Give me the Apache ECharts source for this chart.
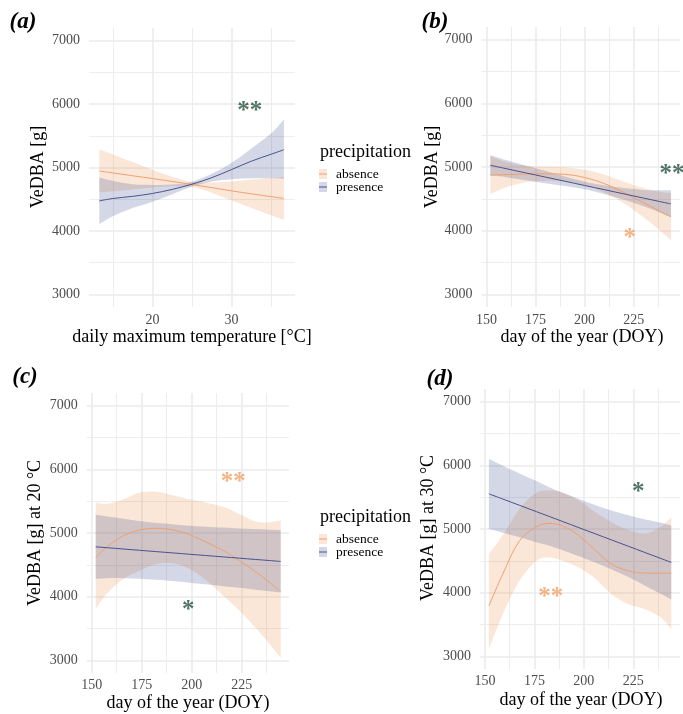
<!DOCTYPE html>
<html lang="en">
<head>
<meta charset="UTF-8">
<title>VeDBA</title>
<script src="https://cdn.jsdelivr.net/npm/echarts@6/dist/echarts.min.js"></script>
<style>
html, body { margin: 0; padding: 0; background: #fff; }
#chart { width: 683px; height: 714px; }
</style>
</head>
<body>
<div id="chart"></div>
<script>
// (a) VeDBA against daily maximum temperature
var tempA    = [13.3, 15, 17.5, 20, 22.5, 25, 27.5, 30, 32.5, 35, 36.6];
var absFitA  = [4946, 4915, 4870, 4826, 4780, 4732, 4682, 4631, 4585, 4540, 4511];
var absUpA   = [5286, 5205, 5085, 4966, 4855, 4772, 4762, 4781, 4810, 4835, 4851];
var absLoA   = [4606, 4625, 4655, 4686, 4705, 4692, 4602, 4481, 4360, 4245, 4171];
var preFitA  = [4473, 4511, 4545, 4590, 4655, 4737, 4840, 4968, 5100, 5210, 5280];
var preUpA   = [4842, 4790, 4735, 4725, 4730, 4775, 4900, 5075, 5300, 5540, 5757];
var preLoA   = [4106, 4230, 4360, 4460, 4580, 4700, 4780, 4815, 4830, 4830, 4820];

// (b) VeDBA against day of the year
var doyB     = [152, 160, 170, 180, 190, 200, 210, 220, 230, 238, 244];
var absFitB  = [4874, 4880, 4890, 4893, 4885, 4835, 4740, 4600, 4440, 4310, 4217];
var absUpB   = [5174, 5080, 5020, 5003, 4995, 4955, 4880, 4770, 4670, 4610, 4587];
var absLoB   = [4574, 4680, 4760, 4783, 4775, 4715, 4600, 4430, 4210, 4010, 3847];
var preFitB  = [5027, 4974, 4908, 4842, 4776, 4710, 4644, 4578, 4512, 4459, 4420];
var preUpB   = [5190, 5110, 5025, 4940, 4850, 4770, 4715, 4670, 4640, 4635, 4635];
var preLoB   = [4865, 4840, 4790, 4745, 4700, 4650, 4575, 4485, 4385, 4290, 4210];

// (c) at 20 °C
var doyC     = [152, 158, 166, 174, 182, 191, 199, 207, 216, 224, 232, 239, 244.5];
var absFitC  = [4617, 4790, 4958, 5047, 5073, 5047, 4974, 4860, 4722, 4564, 4390, 4222, 4080];
var absUpC   = [5480, 5460, 5530, 5635, 5650, 5590, 5530, 5480, 5410, 5300, 5180, 5170, 5200];
var absLoC   = [3803, 4060, 4280, 4406, 4510, 4522, 4433, 4260, 4010, 3776, 3510, 3252, 3040];
var preFitC  = [4783, 4768, 4748, 4728, 4708, 4686, 4666, 4646, 4624, 4604, 4584, 4567, 4553];
var preUpC   = [5288, 5260, 5225, 5190, 5160, 5135, 5115, 5100, 5085, 5072, 5062, 5053, 5047];
var preLoC   = [4280, 4290, 4290, 4280, 4265, 4245, 4220, 4195, 4165, 4140, 4110, 4085, 4062];

// (d) at 30 °C
var doyD     = [152, 159, 167.5, 176, 182.5, 189, 197.5, 206, 214, 222.5, 231, 239, 244.2];
var absFitD  = [3792, 4291, 4816, 5036, 5088, 5052, 4895, 4658, 4449, 4343, 4307, 4305, 4307];
var absUpD   = [4606, 4900, 5320, 5570, 5605, 5578, 5446, 5258, 5108, 4984, 4931, 5040, 5183];
var absLoD   = [3110, 3661, 4186, 4501, 4553, 4501, 4395, 4213, 3976, 3819, 3740, 3608, 3425];
var preFitD  = [5553, 5471, 5372, 5273, 5197, 5121, 5021, 4922, 4828, 4729, 4629, 4536, 4475];
var preUpD   = [6104, 5995, 5872, 5753, 5657, 5573, 5471, 5372, 5290, 5215, 5150, 5100, 5055];
var preLoD   = [5002, 4940, 4870, 4790, 4735, 4670, 4570, 4470, 4365, 4245, 4110, 3980, 3895];

// significance stars: [x, y, text, group]
var starsA = [[32.3, 5960, '**', 'presence']];
var starsB = [[223, 3962, '*', 'absence'], [244.5, 4964, '**', 'presence']];
var starsC = [[220.8, 5876, '**', 'absence'], [198.3, 3855, '*', 'presence']];
var starsD = [[227.5, 5655, '*', 'presence'], [183.3, 4002, '**', 'absence']];

var groups = ['absence', 'presence'];
var yTicks = [3000, 4000, 5000, 6000, 7000];

var FONT = "'Liberation Serif', 'DejaVu Serif', serif";
var GRIDCOL = '#ebebeb';
var NONE = 'rgba(0,0,0,0)';
var BAND = { absence: 'rgba(235,135,60,0.2)', presence: 'rgba(40,60,130,0.2)' };
var LINE = { absence: '#f0a070', presence: '#475290' };
var STAR = { absence: '#f0a065', presence: '#24513f' };
var KEY  = { absence: '#fbe7d8', presence: '#d4d8e6' };

// tick list as echarts builds it (from min, plus max if not on the step)
function tickList(min, max, step) {
    var out = [], n = Math.floor((max - min) / step + 1e-9);
    for (var i = 0; i <= n; i++) out.push(min + i * step);
    if (out[out.length - 1] < max - 1e-9) out.push(max);
    return out;
}
function near(v, m) {
    var r = v / m;
    return Math.abs(r - Math.round(r)) < 1e-6;
}
function lineColors(min, max, step, test) {
    return tickList(min, max, step).map(function (v) { return test(v) ? GRIDCOL : NONE; });
}

var grids = [
    { left: 89,    top: 28,  width: 206,   height: 279 },
    { left: 481.5, top: 27,  width: 202.2, height: 280 },
    { left: 86.7,  top: 393, width: 202.2, height: 280 },
    { left: 480,   top: 389, width: 202.2, height: 280 }
];
var xSpec = [
    { min: 12, max: 38, step: 1, major: 10, minor: 5, margin: 6 },
    { min: 147.5, max: 248.6, step: 2.5, major: 25, minor: 12.5, margin: 6 },
    { min: 147.5, max: 248.6, step: 2.5, major: 25, minor: 12.5, margin: 5 },
    { min: 147.5, max: 248.6, step: 2.5, major: 25, minor: 12.5, margin: 5 }
];
var yMin = 2800, yMax = 7200, yStep = 100;

var xAxes = [], yAxes = [];
xSpec.forEach(function (s, g) {
    var base = { type: 'value', gridIndex: g, min: s.min, max: s.max, interval: s.step,
        axisLine: { show: false }, axisTick: { show: false } };
    xAxes.push(Object.assign({}, base, {
        position: 'bottom',
        axisLabel: { margin: s.margin, color: '#4d4d4d', fontSize: 14, fontFamily: FONT,
            formatter: function (v) { return near(v, s.major) ? String(v) : ''; } },
        splitLine: { show: true, lineStyle: { width: 1.6,
            color: lineColors(s.min, s.max, s.step, function (v) { return near(v, s.major); }) } }
    }));
    xAxes.push(Object.assign({}, base, {
        position: 'top', axisLabel: { show: false },
        splitLine: { show: true, lineStyle: { width: 0.9,
            color: lineColors(s.min, s.max, s.step, function (v) { return near(v, s.minor) && !near(v, s.major); }) } }
    }));
    var ybase = { type: 'value', gridIndex: g, min: yMin, max: yMax, interval: yStep,
        axisLine: { show: false }, axisTick: { show: false } };
    yAxes.push(Object.assign({}, ybase, {
        position: 'left',
        axisLabel: { margin: 9, color: '#4d4d4d', fontSize: 14, fontFamily: FONT,
            formatter: function (v) { return yTicks.indexOf(v) >= 0 ? String(v) : ''; } },
        splitLine: { show: true, lineStyle: { width: 1.6,
            color: lineColors(yMin, yMax, yStep, function (v) { return near(v, 1000); }) } }
    }));
    yAxes.push(Object.assign({}, ybase, {
        position: 'right', axisLabel: { show: false },
        splitLine: { show: true, lineStyle: { width: 0.9,
            color: lineColors(yMin, yMax, yStep, function (v) { return near(v, 500) && !near(v, 1000); }) } }
    }));
});

// smooth path through pixel points
function curvePath(pts, move) {
    var d = (move ? 'M' : 'L') + pts[0][0] + ' ' + pts[0][1];
    for (var i = 0; i < pts.length - 1; i++) {
        var p0 = pts[i - 1] || pts[i], p1 = pts[i], p2 = pts[i + 1], p3 = pts[i + 2] || pts[i + 1];
        d += ' C' + (p1[0] + (p2[0] - p0[0]) / 6) + ' ' + (p1[1] + (p2[1] - p0[1]) / 6) +
             ' ' + (p2[0] - (p3[0] - p1[0]) / 6) + ' ' + (p2[1] - (p3[1] - p1[1]) / 6) +
             ' ' + p2[0] + ' ' + p2[1];
    }
    return d;
}

function bandSeries(g, xs, lo, hi, grp) {
    return {
        type: 'custom', name: grp, xAxisIndex: 2 * g, yAxisIndex: 2 * g, silent: true,
        data: xs.map(function (x, i) { return [x, lo[i], hi[i]]; }),
        encode: { x: 0, y: [1, 2] },
        renderItem: function (params, api) {
            if (params.dataIndex !== 0) return null;
            var up = xs.map(function (x, i) { return api.coord([x, hi[i]]); });
            var dn = xs.map(function (x, i) { return api.coord([x, lo[i]]); }).reverse();
            return { type: 'path', shape: { pathData: curvePath(up, true) + ' ' + curvePath(dn, false) + ' Z' },
                     style: { fill: BAND[grp] } };
        }
    };
}
function lineSeries(g, xs, ys, grp) {
    return {
        type: 'line', name: grp, xAxisIndex: 2 * g, yAxisIndex: 2 * g, silent: true,
        data: xs.map(function (x, i) { return [x, ys[i]]; }),
        showSymbol: false, smooth: 0.35,
        lineStyle: { color: LINE[grp], width: 1 }
    };
}
function starSeries(g, stars) {
    return {
        type: 'scatter', xAxisIndex: 2 * g, yAxisIndex: 2 * g, silent: true, symbolSize: 0,
        data: stars.map(function (s) {
            return { value: [s[0], s[1]], name: s[2],
                label: { show: true, position: 'inside', formatter: '{b}', offset: [0, 5],
                    color: STAR[s[3]], fontSize: 25, fontWeight: 'bold', fontFamily: FONT } };
        })
    };
}

var panels = [
    [tempA, absFitA, absUpA, absLoA, preFitA, preUpA, preLoA, starsA],
    [doyB, absFitB, absUpB, absLoB, preFitB, preUpB, preLoB, starsB],
    [doyC, absFitC, absUpC, absLoC, preFitC, preUpC, preLoC, starsC],
    [doyD, absFitD, absUpD, absLoD, preFitD, preUpD, preLoD, starsD]
];
var series = [];
panels.forEach(function (p, g) {
    series.push(bandSeries(g, p[0], p[3], p[2], 'absence'));
    series.push(bandSeries(g, p[0], p[6], p[5], 'presence'));
    series.push(lineSeries(g, p[0], p[1], 'absence'));
    series.push(lineSeries(g, p[0], p[4], 'presence'));
    series.push(starSeries(g, p[7]));
});

function txt(x, y, text, size, opts) {
    opts = opts || {};
    return {
        type: 'text', x: x, y: y, rotation: opts.rot || 0, silent: true,
        style: { text: text, fontSize: size, fontFamily: FONT, fontWeight: opts.weight || 'normal',
            fontStyle: opts.style || 'normal', fill: opts.fill || '#000',
            align: opts.align || 'center', verticalAlign: 'middle',
            textAlign: opts.align || 'center', textVerticalAlign: 'middle' }
    };
}
function legend(x, y) {
    var out = [txt(x, y, 'precipitation', 18, { align: 'left' })];
    groups.forEach(function (grp, i) {
        var ky = y + 22 + i * 13;
        out.push({ type: 'rect', silent: true, shape: { x: x - 1, y: ky - 5, width: 8, height: 10 },
            style: { fill: KEY[grp] } });
        out.push({ type: 'line', silent: true, shape: { x1: x - 1, y1: ky, x2: x + 7, y2: ky },
            style: { stroke: LINE[grp], lineWidth: 1 } });
        out.push(txt(x + 16, ky, grp, 13.5, { align: 'left' }));
    });
    return out;
}

var graphic = [
    txt(23, 22, '(a)', 23, { weight: 'bold', style: 'italic' }),
    txt(435, 22, '(b)', 23, { weight: 'bold', style: 'italic' }),
    txt(25, 377, '(c)', 23, { weight: 'bold', style: 'italic' }),
    txt(440, 379, '(d)', 23, { weight: 'bold', style: 'italic' }),
    txt(38, 167, 'VeDBA [g]', 18, { rot: Math.PI / 2 }),
    txt(432, 167, 'VeDBA [g]', 18, { rot: Math.PI / 2 }),
    txt(35, 533, 'VeDBA [g] at 20 °C', 18, { rot: Math.PI / 2 }),
    txt(428, 528, 'VeDBA [g] at 30 °C', 18, { rot: Math.PI / 2 }),
    txt(192, 337, 'daily maximum temperature [°C]', 18),
    txt(582, 337, 'day of the year (DOY)', 18),
    txt(188, 703, 'day of the year (DOY)', 18),
    txt(581, 700, 'day of the year (DOY)', 18)
].concat(legend(320, 152), legend(320, 517));

var chart = echarts.init(document.getElementById('chart'), null, { renderer: 'canvas' });
chart.setOption({
    animation: false,
    backgroundColor: '#fff',
    grid: grids,
    xAxis: xAxes,
    yAxis: yAxes,
    series: series,
    graphic: graphic
});
</script>
</body>
</html>
